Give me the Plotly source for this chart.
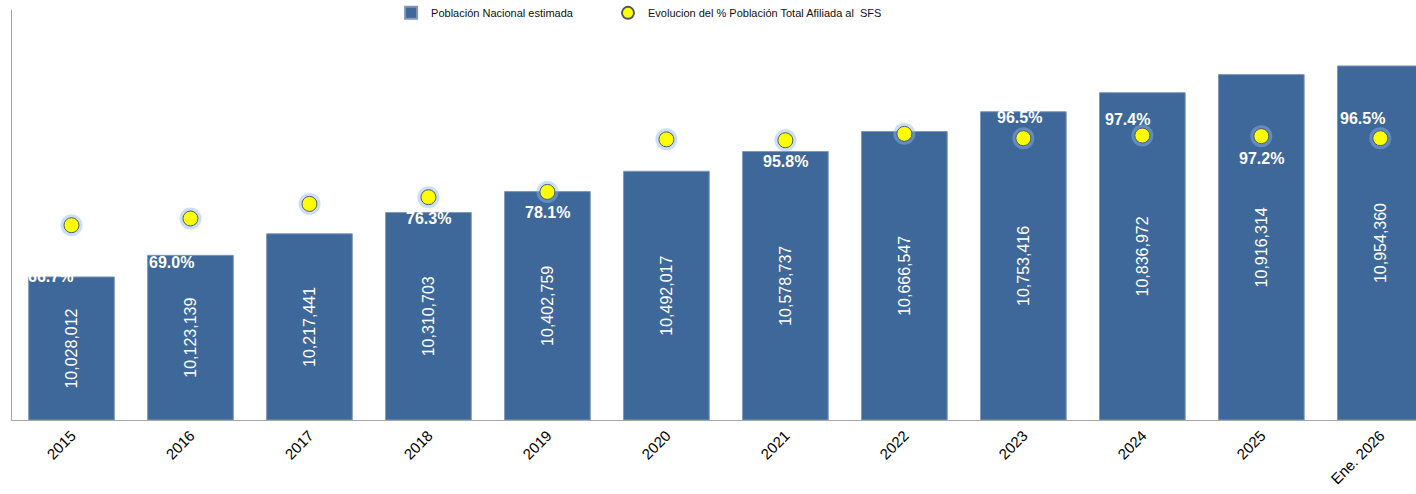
import plotly.graph_objects as go

categories = ["2015", "2016", "2017", "2018", "2019", "2020", "2021", "2022",
              "2023", "2024", "2025", "Ene. 2026"]
poblacion = [10028012, 10123139, 10217441, 10310703, 10402759, 10492017,
             10578737, 10666547, 10753416, 10836972, 10916314, 10954360]
pct_afiliada = [66.7, 69.0, 74.0, 76.3, 78.1, 96.1, 95.8, 98.0, 96.5, 97.4, 97.2, 96.5]

# axis ranges
Y1_MIN, Y1_MAX = 9400000, 11200000
Y2_MIN, Y2_MAX = 0, 140.4

# label offsets (pixels) for the percentage labels
lbl_dx = [-21, -19, 0, 0, 0, 0, 0, 0, -4, -15, 0, -18]
lbl_dy = [-51, -44, -22, -21, -21, -21, -21, 21, 21, 16, -22, 20]

FONT = "Liberation Sans, Arial, sans-serif"
BAR_COLOR = "#3D6899"

fig = go.Figure()

fig.add_trace(go.Bar(
    x=categories, y=[v - Y1_MIN for v in poblacion], base=Y1_MIN,
    name="Población Nacional estimada",
    marker=dict(color=BAR_COLOR, line=dict(color="#7f97b8", width=1)),
    text=[f"{v:,}" for v in poblacion], textposition="inside",
    textangle=-90, insidetextanchor="middle",
    insidetextfont=dict(color="white", size=16, family=FONT),
    yaxis="y", legend="legend",
))

# glow under the markers
fig.add_trace(go.Scatter(
    x=categories, y=pct_afiliada, mode="markers", showlegend=False,
    hoverinfo="skip",
    marker=dict(size=22, color="rgba(140,185,240,0.45)", line=dict(width=0)),
    yaxis="y2",
))
fig.add_trace(go.Scatter(
    x=categories, y=pct_afiliada, mode="markers",
    name="Evolucion del % Población Total Afiliada al  SFS",
    marker=dict(size=15, color="#FFFF00", line=dict(color="#4d5a66", width=1)),
    yaxis="y2", legend="legend2",
))

for i, (p, dx, dy) in enumerate(zip(pct_afiliada, lbl_dx, lbl_dy)):
    fig.add_annotation(
        x=i, y=p, xref="x", yref="y2", text=f"{p:.1f}%", showarrow=False,
        xshift=dx, yshift=dy,
        font=dict(color="white", size=16, family=FONT, weight="bold"),
    )

legend_common = dict(
    orientation="h", y=0.993, xanchor="left", yanchor="middle",
    font=dict(size=11, family=FONT, color="#111111"),
    bgcolor="rgba(0,0,0,0)", itemsizing="constant",
)

fig.update_layout(
    width=1416, height=494,
    margin=dict(l=12, r=0, t=10, b=74, autoexpand=False),
    paper_bgcolor="white", plot_bgcolor="white",
    font=dict(family=FONT, color="#000000"),
    bargap=0.28,
    showlegend=True,
    legend=dict(x=0.270, **legend_common),
    legend2=dict(x=0.4245, **legend_common),
    xaxis=dict(
        type="category", range=[-0.5, 11.30], tickangle=-45, automargin=False,
        tickfont=dict(size=15, family=FONT, color="#000000"),
        showline=True, linecolor="#a6a6a6", linewidth=1,
        showgrid=False, ticks="", zeroline=False,
    ),
    yaxis=dict(
        range=[Y1_MIN, Y1_MAX], showticklabels=False, showgrid=False, automargin=False,
        showline=True, linecolor="#a6a6a6", linewidth=1, zeroline=False, ticks="",
    ),
    yaxis2=dict(
        range=[Y2_MIN, Y2_MAX], overlaying="y", side="right", showticklabels=False,
        showgrid=False, showline=False, zeroline=False, ticks="", automargin=False,
    ),
)

fig.write_html(
    "out.html",
    config={"displayModeBar": False},
    post_script="document.body.style.margin='0';document.body.style.overflow='hidden';",
)
